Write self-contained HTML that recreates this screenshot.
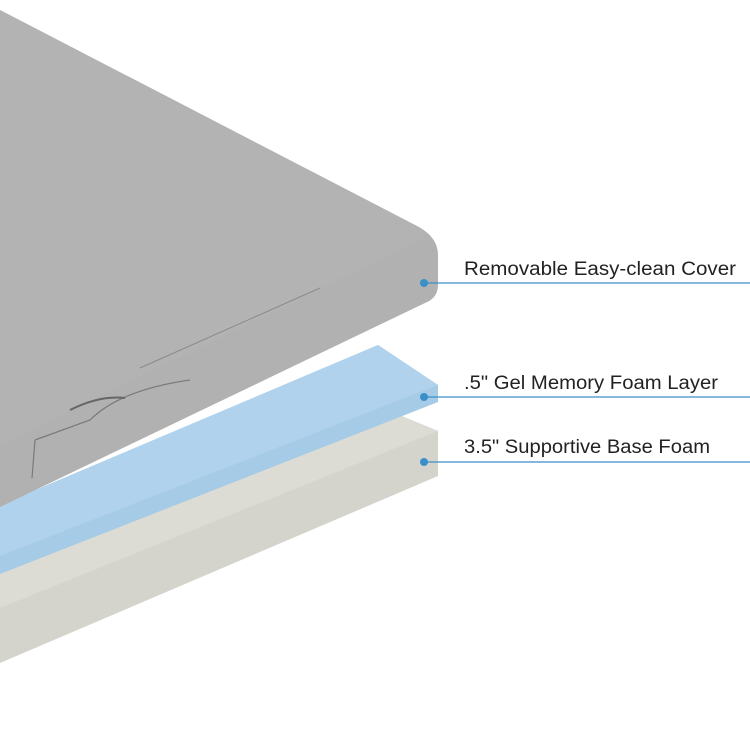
<!DOCTYPE html>
<html><head><style>
html,body{margin:0;padding:0;background:#fff;}
svg{display:block}
text{font-family:"Liberation Sans",sans-serif;font-size:19px;fill:#222}
</style></head><body>
<svg width="750" height="750" viewBox="0 0 750 750">
<!-- base foam -->
<polygon points="0,572 397,414 438,431 438,476 0,663" fill="#d4d4cc"/>
<polygon points="0,572 397,414 438,431 0,608" fill="#dcdcd5"/>
<!-- blue gel -->
<polygon points="0,505 378,345 438,385 438,402 0,574" fill="#a6cbe6"/>
<polygon points="0,505 378,345 438,385 0,556" fill="#b0d2ec"/>
<!-- gray cover -->
<path d="M0,10 L415,225 Q438,236 438,255 L438,285 Q438,298 425,303 L0,507 Z" fill="#b1b1b1"/>
<path d="M0,10 L415,225 Q432,233 420,240 L0,445 Z" fill="#b3b3b3"/>
<path d="M140,368 L320,288" stroke="#8a8a8a" stroke-width="1" fill="none"/>
<path d="M35,440 L32,478 M35,440 L90,420 Q120,390 190,380" stroke="#7a7a7a" stroke-width="1.2" fill="none"/>
<path d="M70,410 Q100,395 125,398" stroke="#666" stroke-width="2" fill="none"/>
<!-- labels -->
<g stroke="#3a8fc8" stroke-width="1.3">
<line x1="424" y1="283" x2="750" y2="283"/>
<line x1="424" y1="397" x2="750" y2="397"/>
<line x1="424" y1="462" x2="750" y2="462"/>
</g>
<g fill="#3a8fc8">
<circle cx="424" cy="283" r="4"/>
<circle cx="424" cy="397" r="4"/>
<circle cx="424" cy="462" r="4"/>
</g>
<text x="464" y="275" textLength="272" lengthAdjust="spacingAndGlyphs">Removable Easy-clean Cover</text>
<text x="464" y="389" textLength="254" lengthAdjust="spacingAndGlyphs">.5" Gel Memory Foam Layer</text>
<text x="464" y="453" textLength="246" lengthAdjust="spacingAndGlyphs">3.5" Supportive Base Foam</text>
</svg>
</body></html>
